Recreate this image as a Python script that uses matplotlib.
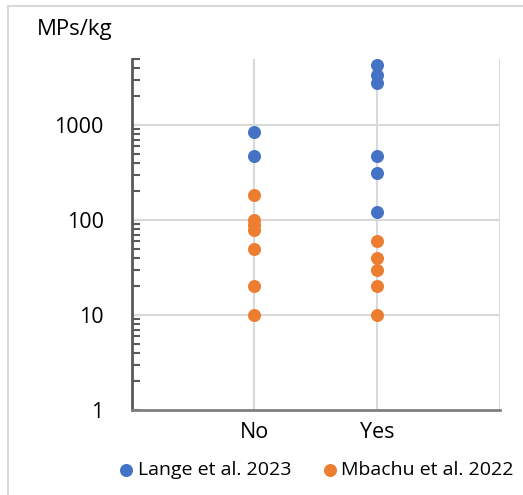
import matplotlib
matplotlib.use("Agg")
import matplotlib.pyplot as plt
from matplotlib.patches import Rectangle
from matplotlib.ticker import LogLocator, NullFormatter

categories = ["No", "Yes"]
lange_no = [850, 475]
lange_yes = [4250, 3400, 2750, 470, 310, 120]
mbachu_no = [182, 100, 89, 79, 49, 20, 10]
mbachu_yes = [60, 40, 30, 20, 10]
ytick_vals = [1, 10, 100, 1000]
ytick_labels = ["1", "10", "100", "1000"]

BLUE = "#4472C4"
ORANGE = "#ED7D31"
W, H = 523, 495
fig = plt.figure(figsize=(W / 100, H / 100), dpi=100)
plt.rcParams['font.family'] = ['Open Sans', 'DejaVu Sans']

ax = fig.add_axes([131.5 / W, 1 - 410 / H, (500 - 131.5) / W, (410 - 58.6) / H])
ax.set_yscale("log")
ax.set_ylim(1, 5000)
ax.set_xlim(0, 3)

xs = {c: i + 1 for i, c in enumerate(categories)}
ms = 88
ax.scatter([xs["No"]] * len(lange_no), lange_no, s=ms, color=BLUE, zorder=3, linewidths=0, label="Lange et al. 2023")
ax.scatter([xs["Yes"]] * len(lange_yes), lange_yes, s=ms, color=BLUE, zorder=3, linewidths=0)
ax.scatter([xs["No"]] * len(mbachu_no), mbachu_no, s=ms, color=ORANGE, zorder=3, linewidths=0, label="Mbachu et al. 2022")
ax.scatter([xs["Yes"]] * len(mbachu_yes), mbachu_yes, s=ms, color=ORANGE, zorder=3, linewidths=0)

# gridlines
for v in [10, 100, 1000]:
    ax.axhline(v, color="#d9d9d9", lw=1.5, zorder=1)
for xv in [1, 2, 3]:
    ax.axvline(xv, color="#d9d9d9", lw=1.5, zorder=1)

ax.set_yticks(ytick_vals)
ax.set_yticklabels(ytick_labels)
ax.yaxis.set_minor_locator(LogLocator(base=10, subs=range(2, 10)))
ax.yaxis.set_minor_formatter(NullFormatter())
ax.tick_params(axis="y", which="both", direction="in", length=6, width=1.5, color="#595959",
               labelsize=15.5, pad=20, labelcolor="black")
ax.set_xticks([xs[c] for c in categories])
ax.set_xticklabels(categories)
ax.tick_params(axis="x", length=0, labelsize=15.5, pad=9)

for s in ["top", "right"]:
    ax.spines[s].set_visible(False)
ax.spines["left"].set_color("#595959")
ax.spines["left"].set_linewidth(2)
ax.spines["bottom"].set_color("#808080")
ax.spines["bottom"].set_linewidth(2)
ax.set_axisbelow(True)

fig.text(37 / W, 1 - 35 / H, "MPs/kg", fontsize=16, ha="left", va="baseline")

leg = fig.legend(loc="center", bbox_to_anchor=(316 / W, 1 - 470 / H), ncol=2, frameon=False,
                 fontsize=14, handlelength=0.8, handletextpad=0.2, columnspacing=1.6,
                 markerscale=1.0, scatterpoints=1)

fig.patches.append(Rectangle((8 / W, -0.1), 2, 1.1 - 6 / H, transform=fig.transFigure,
                             fill=False, edgecolor="#d9d9d9", lw=1.5))

fig.savefig("out.png", dpi=100)
